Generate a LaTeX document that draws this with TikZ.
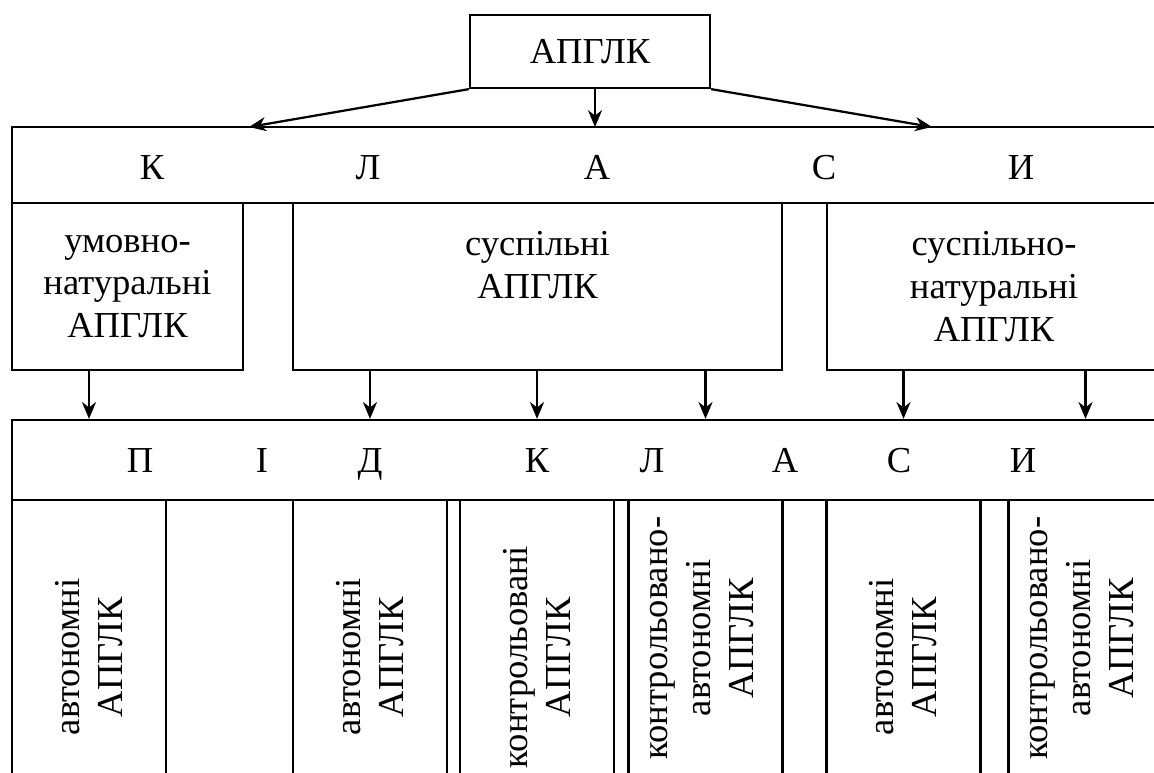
\documentclass[tikz,border=0pt]{standalone}
\usepackage{fontspec}
\setmainfont{Liberation Serif}
\usetikzlibrary{arrows.meta}

\tikzset{
  box/.style={draw, line width=1.6pt, inner sep=0pt},
  lbl/.style={font=\fontsize{26}{30.5}\selectfont, align=center, inner sep=0pt},
  arr/.style={line width=1.6pt, -{Stealth[length=12pt,width=10pt]}}
}

\begin{document}
\begin{tikzpicture}[x=0.025cm, y=-0.025cm]
\useasboundingbox (0,0) rectangle (1154,772);
\clip (0,0) rectangle (1154,772);

  % Define the upper boxes
  \node[box, lbl, minimum width=6cm, minimum height=1.825cm] (root) at (590,51.5) {АПГЛК};
  \node[box, minimum width=29.2cm, minimum height=1.9cm] (band1) at (596,165) {};
  \node[box, lbl, minimum width=5.775cm, minimum height=4.175cm] (natural) at (127.5,286.5) {умовно-\\натуральні\\АПГЛК};
  \node[box, lbl, minimum width=12.225cm, minimum height=4.175cm] (social) at (537.5,286.5) {суспільні\\АПГЛК\\~};
  \node[box, lbl, minimum width=8.35cm, minimum height=4.175cm] (socnat) at (994,286.5) {суспільно-\\натуральні\\АПГЛК};
  \node[box, minimum width=29.2cm, minimum height=2cm] (band2) at (596,460) {};

  % Letters in the bands
  \foreach \x/\l [count=\i] in {152/К, 368/Л, 597/А, 824/С, 1021/И} {
    \node[lbl, anchor=base] (kl-\i) at (\x,179) {\l};
  }
  \foreach \x/\l [count=\i] in {140/П, 262/І, 370/Д, 537/К, 652/Л, 785/А, 899/С, 1023/И} {
    \node[lbl, anchor=base] (pk-\i) at (\x,472) {\l};
  }

  % Define the lower boxes
  \foreach \b/\x in {b1/89, b2/370, b3/537, b4/705.5, b5/903.5, b6/1085.5} {
    \node[box, minimum width=3.85cm, minimum height=7.85cm] (\b) at (\x,657) {};
  }
  \node[lbl, rotate=90] (t1) at (b1) {автономні\\АПГЛК};
  \node[lbl, rotate=90] (t2) at (b2) {автономні\\АПГЛК};
  \node[lbl, rotate=90] (t3) at (b3) {контрольовані\\АПГЛК};
  \node[lbl, rotate=90] (t4) at (702,638) {контрольовано-\\автономні\\АПГЛК};
  \node[lbl, rotate=90] (t5) at (b5) {автономні\\АПГЛК};
  \node[lbl, rotate=90] (t6) at (1082,638) {контрольовано-\\автономні\\АПГЛК};

  % Draw the arrows
  \coordinate (tipl) at (249,127);
  \coordinate (tipm) at (595,127);
  \coordinate (tipr) at (932,127);
  \draw[arr] (root.south west) -- (tipl);
  \draw[arr] (tipm |- root.south) -- (tipm);
  \draw[arr] (root.south east) -- (tipr);
  \foreach \b/\u in {b1/natural, b2/social, b3/social, b4/social, b5/socnat, b6/socnat} {
    \draw[arr] (\b.north |- \u.south) -- (\b.north |- band2.north);
  }
\end{tikzpicture}
\end{document}
